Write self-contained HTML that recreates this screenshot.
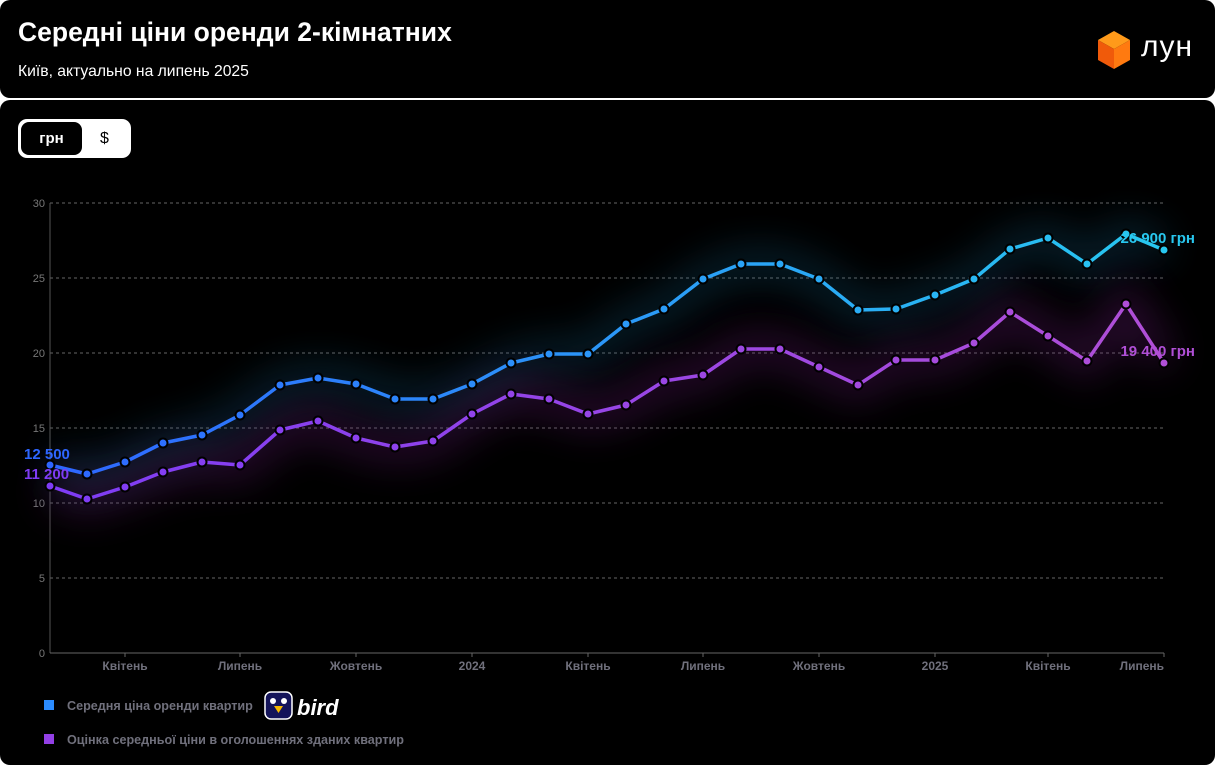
<!DOCTYPE html>
<html><head><meta charset="utf-8"><style>
html,body{margin:0;padding:0;background:#fff;width:1215px;height:765px;overflow:hidden}
body{font-family:"Liberation Sans",sans-serif}
.hdr{position:absolute;left:0;top:0;width:1215px;height:98px;background:#000;border-radius:10px}
.card{position:absolute;left:0;top:100px;width:1215px;height:665px;background:#000;border-radius:10px}
</style></head><body>
<div class="hdr">
<div style="position:absolute;left:18px;top:17px;color:#fff;font-size:26.5px;font-weight:bold">Середні ціни оренди 2-кімнатних</div>
<div style="position:absolute;left:18px;top:63px;color:#fff;font-size:15.7px">Київ, актуально на липень 2025</div>
<svg style="position:absolute;left:1096px;top:30px" width="36" height="40" viewBox="0 0 36 40">
<polygon points="18,1 34,10 18,19 2,10" fill="#ff9a1a"/>
<polygon points="2,10 18,19 18,39 2,30" fill="#f05a0a"/>
<polygon points="34,10 18,19 18,39 34,30" fill="#ff7a10"/>
</svg>
<div style="position:absolute;left:1141px;top:30px;color:#fff;font-size:30px;letter-spacing:1px">лун</div>
</div>
<div class="card">
<div style="position:absolute;left:18px;top:19px;width:113px;height:39px;background:#fff;border-radius:9px"></div>
<div style="position:absolute;left:21px;top:22px;width:61px;height:33px;background:#000;border-radius:8px;color:#fff;font-size:15px;text-align:center;line-height:33px;font-weight:bold">грн</div>
<div style="position:absolute;left:82px;top:22px;width:45px;height:33px;color:#000;font-size:16px;text-align:center;line-height:33px">$</div>
</div>
<svg style="position:absolute;left:0;top:0" width="1215" height="765">
<defs>
<linearGradient id="gb" x1="50" x2="1164" y1="0" y2="0" gradientUnits="userSpaceOnUse"><stop offset="0" stop-color="#2e66ff"/><stop offset="1" stop-color="#28c8f0"/></linearGradient>
<linearGradient id="gp" x1="50" x2="1164" y1="0" y2="0" gradientUnits="userSpaceOnUse"><stop offset="0" stop-color="#7e3cf5"/><stop offset="1" stop-color="#b04fd6"/></linearGradient>
<filter id="bl" x="-20%" y="-50%" width="140%" height="200%"><feGaussianBlur stdDeviation="20"/></filter>
</defs>
<g stroke="#666" stroke-dasharray="3,3" stroke-width="1">
<line x1="50" x2="1164" y1="203" y2="203"/><line x1="50" x2="1164" y1="278" y2="278"/>
<line x1="50" x2="1164" y1="353" y2="353"/><line x1="50" x2="1164" y1="428" y2="428"/>
<line x1="50" x2="1164" y1="503" y2="503"/><line x1="50" x2="1164" y1="578" y2="578"/>
</g>
<line x1="50" x2="50" y1="203" y2="653" stroke="#555"/>
<line x1="50" x2="1164" y1="653" y2="653" stroke="#666"/>
<g stroke="#666"><line x1="125" x2="125" y1="653" y2="657"/><line x1="240" x2="240" y1="653" y2="657"/><line x1="356" x2="356" y1="653" y2="657"/><line x1="472" x2="472" y1="653" y2="657"/><line x1="588" x2="588" y1="653" y2="657"/><line x1="703" x2="703" y1="653" y2="657"/><line x1="819" x2="819" y1="653" y2="657"/><line x1="935" x2="935" y1="653" y2="657"/><line x1="1048" x2="1048" y1="653" y2="657"/><line x1="1164" x2="1164" y1="653" y2="657"/></g>
<g fill="#777" font-size="11" text-anchor="end"><text x="45" y="207">30</text><text x="45" y="282">25</text><text x="45" y="357">20</text><text x="45" y="432">15</text><text x="45" y="507">10</text><text x="45" y="582">5</text><text x="45" y="657">0</text></g>
<g fill="#70707c" font-size="12" font-weight="bold" text-anchor="middle"><text x="125" y="670">Квітень</text><text x="240" y="670">Липень</text><text x="356" y="670">Жовтень</text><text x="472" y="670">2024</text><text x="588" y="670">Квітень</text><text x="703" y="670">Липень</text><text x="819" y="670">Жовтень</text><text x="935" y="670">2025</text><text x="1048" y="670">Квітень</text><text x="1164" y="670" text-anchor="end">Липень</text></g>
<polyline fill="none" stroke="#1a7fb0" stroke-width="26" opacity="0.3" filter="url(#bl)" points="50,465 87,474 125,462 163,443 202,435 240,415 280,385 318,378 356,384 395,399 433,399 472,384 511,363 549,354 588,354 626,324 664,309 703,279 741,264 780,264 819,279 858,310 896,309 935,295 974,279 1010,249 1048,238 1087,264 1126,234 1164,250"/>
<polyline fill="none" stroke="#7a208a" stroke-width="30" opacity="0.35" filter="url(#bl)" points="50,486 87,499 125,487 163,472 202,462 240,465 280,430 318,421 356,438 395,447 433,441 472,414 511,394 549,399 588,414 626,405 664,381 703,375 741,349 780,349 819,367 858,385 896,360 935,360 974,343 1010,312 1048,336 1087,361 1126,304 1164,363"/>
<polyline fill="none" stroke="url(#gb)" stroke-width="3.5" stroke-linejoin="round" points="50,465 87,474 125,462 163,443 202,435 240,415 280,385 318,378 356,384 395,399 433,399 472,384 511,363 549,354 588,354 626,324 664,309 703,279 741,264 780,264 819,279 858,310 896,309 935,295 974,279 1010,249 1048,238 1087,264 1126,234 1164,250"/>
<polyline fill="none" stroke="url(#gp)" stroke-width="3.5" stroke-linejoin="round" points="50,486 87,499 125,487 163,472 202,462 240,465 280,430 318,421 356,438 395,447 433,441 472,414 511,394 549,399 588,414 626,405 664,381 703,375 741,349 780,349 819,367 858,385 896,360 935,360 974,343 1010,312 1048,336 1087,361 1126,304 1164,363"/>
<g fill="url(#gb)" stroke="#000" stroke-width="2">
<circle cx="50" cy="465" r="4.5"/><circle cx="87" cy="474" r="4.5"/><circle cx="125" cy="462" r="4.5"/><circle cx="163" cy="443" r="4.5"/><circle cx="202" cy="435" r="4.5"/><circle cx="240" cy="415" r="4.5"/><circle cx="280" cy="385" r="4.5"/><circle cx="318" cy="378" r="4.5"/><circle cx="356" cy="384" r="4.5"/><circle cx="395" cy="399" r="4.5"/><circle cx="433" cy="399" r="4.5"/><circle cx="472" cy="384" r="4.5"/><circle cx="511" cy="363" r="4.5"/><circle cx="549" cy="354" r="4.5"/><circle cx="588" cy="354" r="4.5"/><circle cx="626" cy="324" r="4.5"/><circle cx="664" cy="309" r="4.5"/><circle cx="703" cy="279" r="4.5"/><circle cx="741" cy="264" r="4.5"/><circle cx="780" cy="264" r="4.5"/><circle cx="819" cy="279" r="4.5"/><circle cx="858" cy="310" r="4.5"/><circle cx="896" cy="309" r="4.5"/><circle cx="935" cy="295" r="4.5"/><circle cx="974" cy="279" r="4.5"/><circle cx="1010" cy="249" r="4.5"/><circle cx="1048" cy="238" r="4.5"/><circle cx="1087" cy="264" r="4.5"/><circle cx="1126" cy="234" r="4.5"/><circle cx="1164" cy="250" r="4.5"/>
</g>
<g fill="url(#gp)" stroke="#000" stroke-width="2">
<circle cx="50" cy="486" r="4.5"/><circle cx="87" cy="499" r="4.5"/><circle cx="125" cy="487" r="4.5"/><circle cx="163" cy="472" r="4.5"/><circle cx="202" cy="462" r="4.5"/><circle cx="240" cy="465" r="4.5"/><circle cx="280" cy="430" r="4.5"/><circle cx="318" cy="421" r="4.5"/><circle cx="356" cy="438" r="4.5"/><circle cx="395" cy="447" r="4.5"/><circle cx="433" cy="441" r="4.5"/><circle cx="472" cy="414" r="4.5"/><circle cx="511" cy="394" r="4.5"/><circle cx="549" cy="399" r="4.5"/><circle cx="588" cy="414" r="4.5"/><circle cx="626" cy="405" r="4.5"/><circle cx="664" cy="381" r="4.5"/><circle cx="703" cy="375" r="4.5"/><circle cx="741" cy="349" r="4.5"/><circle cx="780" cy="349" r="4.5"/><circle cx="819" cy="367" r="4.5"/><circle cx="858" cy="385" r="4.5"/><circle cx="896" cy="360" r="4.5"/><circle cx="935" cy="360" r="4.5"/><circle cx="974" cy="343" r="4.5"/><circle cx="1010" cy="312" r="4.5"/><circle cx="1048" cy="336" r="4.5"/><circle cx="1087" cy="361" r="4.5"/><circle cx="1126" cy="304" r="4.5"/><circle cx="1164" cy="363" r="4.5"/>
</g>
<g font-size="15" font-weight="bold">
<text x="24" y="459" fill="#2e66ff">12 500</text>
<text x="24" y="479" fill="#7e3cf5">11 200</text>
<text x="1195" y="243" fill="#28c8f0" text-anchor="end">26 900 грн</text>
<text x="1195" y="356" fill="#b04fd6" text-anchor="end">19 400 грн</text>
</g>
<rect x="44" y="700" width="10" height="10" fill="#2b8cff"/>
<rect x="44" y="734" width="10" height="10" fill="#9340e6"/>
<g fill="#70707c" font-size="12.6" font-weight="bold"><text x="67" y="710">Середня ціна оренди квартир</text><text x="67" y="744">Оцінка середньої ціни в оголошеннях зданих квартир</text></g>
<rect x="265" y="692" width="27" height="27" rx="6" fill="#14145a" stroke="#fff" stroke-width="1.5"/>
<circle cx="273" cy="701" r="3" fill="#fff"/><circle cx="284" cy="701" r="3" fill="#fff"/>
<polygon points="274,706 283,706 278.5,713" fill="#f5b800"/>
<text x="297" y="715" fill="#fff" font-size="22" font-weight="bold" font-style="italic">bird</text>
</svg>
</body></html>
